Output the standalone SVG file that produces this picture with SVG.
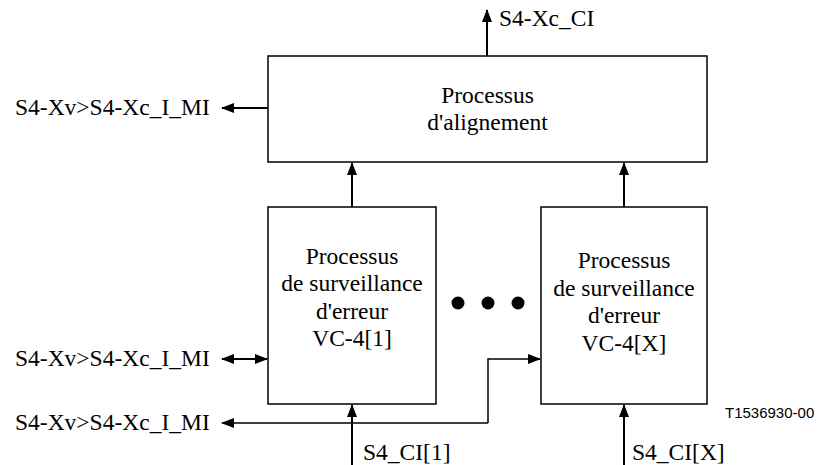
<svg xmlns="http://www.w3.org/2000/svg" width="819" height="465" viewBox="0 0 819 465">
<style>
.box{fill:#fff;stroke:#000;stroke-width:1.5}
.ln{fill:none;stroke:#000;stroke-width:2}
.thin{fill:none;stroke:#000;stroke-width:1.5}
.c{text-anchor:middle}
</style>
<defs>
<marker id="ah" markerWidth="13" markerHeight="10" refX="12" refY="5" orient="auto-start-reverse" markerUnits="userSpaceOnUse">
<path d="M0,0 L13,5 L0,10 Z" fill="#000"/>
</marker>
</defs>
<g id="connectors">
<line class="ln" x1="487" y1="56" x2="487" y2="10" marker-end="url(#ah)"/>
<line class="ln" x1="268" y1="108" x2="222" y2="108" marker-end="url(#ah)"/>
<line class="ln" x1="352" y1="207" x2="352" y2="163" marker-end="url(#ah)"/>
<line class="ln" x1="624" y1="207" x2="624" y2="163" marker-end="url(#ah)"/>
<line class="ln" x1="222" y1="359" x2="267" y2="359" marker-start="url(#ah)" marker-end="url(#ah)"/>
<polyline class="thin" points="488,423 488,359 540,359" marker-end="url(#ah)"/>
<line class="thin" x1="488" y1="423" x2="222" y2="423" marker-end="url(#ah)"/>
<line class="ln" x1="352" y1="465" x2="352" y2="405" marker-end="url(#ah)"/>
<line class="ln" x1="624" y1="465" x2="624" y2="405" marker-end="url(#ah)"/>
</g>
<g font-family="'Liberation Serif', 'Times New Roman', 'DejaVu Serif', serif" font-size="23.5" fill="#000">
<g id="align">
<rect class="box" x="268" y="56" width="439" height="106"/>
<text class="c" x="487.5" y="103">Processus</text>
<text class="c" x="487.5" y="130">d'alignement</text>
</g>
<g id="surv1">
<rect class="box" x="268" y="207" width="168" height="197"/>
<text class="c" x="352" y="264">Processus</text>
<text class="c" x="352" y="291">de surveillance</text>
<text class="c" x="352" y="319">d'erreur</text>
<text class="c" x="352" y="346">VC-4[1]</text>
</g>
<g id="survX">
<rect class="box" x="541" y="207" width="166" height="197"/>
<text class="c" x="624" y="268">Processus</text>
<text class="c" x="624" y="296">de surveillance</text>
<text class="c" x="624" y="323">d'erreur</text>
<text class="c" x="624" y="351">VC-4[X]</text>
</g>
<g id="dots">
<circle cx="458" cy="303" r="6.5"/>
<circle cx="488" cy="303" r="6.5"/>
<circle cx="518" cy="303" r="6.5"/>
</g>
<g id="labels">
<text x="499" y="26">S4-Xc_CI</text>
<text x="15" y="115">S4-Xv&gt;S4-Xc_I_MI</text>
<text x="15" y="366">S4-Xv&gt;S4-Xc_I_MI</text>
<text x="15" y="430">S4-Xv&gt;S4-Xc_I_MI</text>
<text x="363" y="460">S4_CI[1]</text>
<text x="632" y="460">S4_CI[X]</text>
<text x="725" y="418" font-family="'Liberation Sans', Arial, sans-serif" font-size="15">T1536930-00</text>
</g>
</g>
</svg>
